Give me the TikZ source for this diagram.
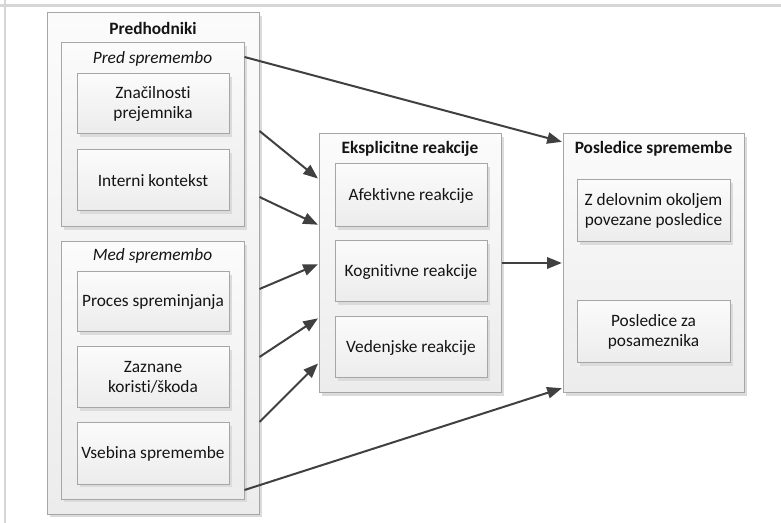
\documentclass[tikz,border=0pt]{standalone}
\usepackage{fontspec}
\setmainfont{Carlito}[Ligatures=NoCommon]
\usetikzlibrary{fit,shadows,arrows.meta}

\definecolor{frameline}{HTML}{D6D6D6}
\definecolor{boxline}{HTML}{A6A6A6}
\definecolor{boxtop}{HTML}{FBFBFB}
\definecolor{boxbottom}{HTML}{ECECEC}
\definecolor{arrowcol}{HTML}{404040}
\definecolor{textcol}{HTML}{141414}

\newcommand{\diagfont}{\fontsize{13}{15}\selectfont}

\tikzset{
  panel/.style={draw=boxline, line width=0.75pt, top color=boxtop, bottom color=boxbottom,
    inner sep=0pt,
    drop shadow={shadow xshift=2.2pt, shadow yshift=-2.2pt, fill=black!14, opacity=1}},
  label text/.style={text=textcol, align=center, inner sep=0pt},
  title/.style={text=textcol, font=\diagfont\bfseries, inner sep=0pt},
  subtitle/.style={text=textcol, font=\diagfont\itshape, inner sep=0pt},
  arr/.style={draw=arrowcol, line width=1.5pt, -{Triangle[length=11pt,width=8.5pt]}, shorten >=0.5pt}
}

\begin{document}
\begin{tikzpicture}[x=0.75pt, y=-0.75pt, font=\diagfont]
\useasboundingbox (0,0) rectangle (781,523);

% page frame (top and left rules)
\draw[frameline, line width=2.2pt] (0,5.5) -- (781,5.5);
\draw[frameline, line width=1.6pt] (5,0) -- (5,523);

% antecedents
\node[panel, fit={(47,13) (259,514)}] (pre) {};
\node[title] (preT) at (153,28) {Predhodniki};

\node[panel, fit={(61,43) (244,227)}] (before) {};
\node[subtitle] (beforeT) at (152.5,59) {Pred spremembo};
\node[panel, fit={(77,74) (229,134)}] (znac) {};
\node[label text] (znacT) at (znac.center) {Značilnosti\\prejemnika};
\node[panel, fit={(77,150) (229,211)}] (intk) {};
\node[label text] (intkT) at (intk.center) {Interni kontekst};

\node[panel, fit={(61,242) (244,499)}] (during) {};
\node[subtitle] (duringT) at (152.5,256) {Med spremembo};
\node[panel, fit={(77,272) (229,332)}] (proc) {};
\node[label text] (procT) at (proc.center) {Proces spreminjanja};
\node[panel, fit={(77,347) (229,408)}] (zazn) {};
\node[label text] (zaznT) at (zazn.center) {Zaznane\\koristi/škoda};
\node[panel, fit={(77,423) (229,484)}] (vseb) {};
\node[label text] (vsebT) at (vseb.center) {Vsebina spremembe};

% explicit reactions
\node[panel, fit={(319,134) (501,393)}] (eks) {};
\node[title] (eksT) at (410,149) {Eksplicitne reakcije};
\node[panel, fit={(335,164) (487,227)}] (afek) {};
\node[label text] (afekT) at (afek.center) {Afektivne reakcije};
\node[panel, fit={(335,241) (487,302)}] (kogn) {};
\node[label text] (kognT) at (kogn.center) {Kognitivne reakcije};
\node[panel, fit={(335,317) (487,378)}] (vede) {};
\node[label text] (vedeT) at (vede.center) {Vedenjske reakcije};

% consequences
\node[panel, fit={(563,134) (744,393)}] (pos) {};
\node[title] (posT) at (653.5,149) {Posledice spremembe};
\node[panel, fit={(577,180) (730,242)}] (zdel) {};
\node[label text] (zdelT) at (zdel.center) {Z delovnim okoljem\\povezane posledice};
\node[panel, fit={(577,301) (730,363)}] (pzap) {};
\node[label text] (pzapT) at (pzap.center) {Posledice za\\posameznika};

% connectors
\draw[arr] (before.east |- 0,57) -- (pos.west |- 0,142);
\draw[arr] (pre.east |- 0,131) -- (eks.west |- 0,179);
\draw[arr] (pre.east |- 0,197) -- (eks.west |- 0,225);
\draw[arr] (pre.east |- 0,289) -- (eks.west |- 0,264);
\draw[arr] (pre.east |- 0,357) -- (eks.west |- 0,318);
\draw[arr] (pre.east |- 0,422) -- (eks.west |- 0,363);
\draw[arr] (during.east |- 0,490) -- (pos.west |- 0,388);
\draw[arr] (eks.east |- 0,263) -- (pos.west |- 0,263);
\end{tikzpicture}
\end{document}
